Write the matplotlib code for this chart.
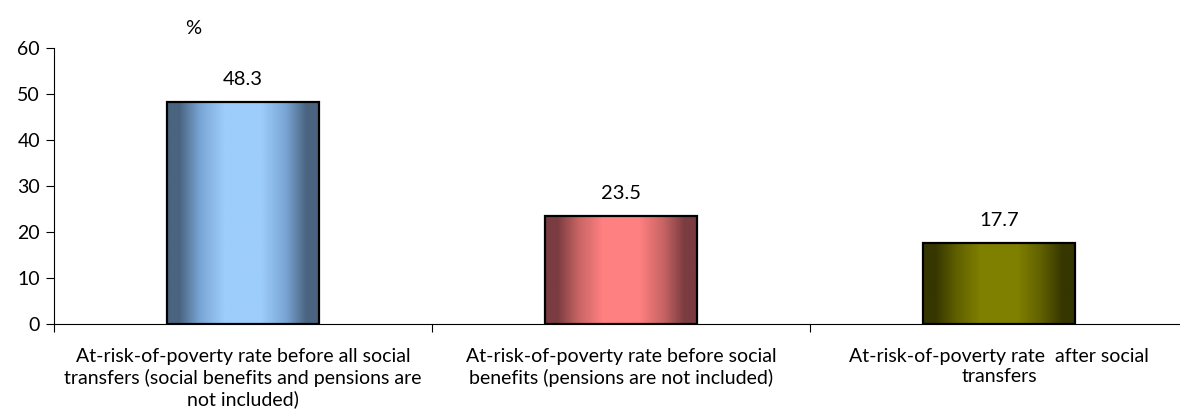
import numpy as np
import matplotlib.pyplot as plt
from matplotlib.colors import LinearSegmentedColormap

plt.rcParams['font.family'] = ['Lato', 'DejaVu Sans']

# data
labels = [
    "At-risk-of-poverty rate before all social\ntransfers (social benefits and pensions are\nnot included)",
    "At-risk-of-poverty rate before social\nbenefits (pensions are not included)",
    "At-risk-of-poverty rate  after social\ntransfers",
]
values = [48.3, 23.5, 17.7]
edge_cols = ["#4a6480", "#7a3c40", "#363600"]
mid_cols = ["#7aa6d6", "#c86464", "#606000"]
centre_cols = ["#9dcdfb", "#ff8080", "#808000"]

fig = plt.figure(figsize=(11.8, 4.12), dpi=100)
ax = fig.add_axes([54/1180, 88/412, 1134/1180, 276/412])

x = np.arange(len(values))
bars = ax.bar(x, values, width=0.40, facecolor='none', edgecolor='black',
              linewidth=1.6, zorder=3)

# horizontal gradient fill clipped to each bar
grad = np.linspace(0, 1, 256).reshape(1, -1)
for b, ec, mc, cc in zip(bars, edge_cols, mid_cols, centre_cols):
    cmap = LinearSegmentedColormap.from_list(
        'g', [(0, ec), (0.08, ec), (0.22, mc), (0.38, cc), (0.62, cc),
              (0.78, mc), (0.92, ec), (1, ec)])
    x0, w, h = b.get_x(), b.get_width(), b.get_height()
    im = ax.imshow(grad, cmap=cmap, aspect='auto', extent=[x0, x0 + w, 0, h],
                   zorder=2, interpolation='bilinear')
    im.set_clip_path(b)
    ax.text(x0 + w / 2, h + 3.0, f"{h:.1f}", ha='center', va='bottom', fontsize=14.5)

ax.set_xlim(-0.5, 2.5)
ax.set_ylim(0, 60)
ax.set_yticks(range(0, 61, 10))
ax.tick_params(axis='y', labelsize=14, length=6, width=0.8, direction='out', pad=4)

ax.set_xticks(x)
ax.set_xticklabels(labels, fontsize=14, linespacing=1.26)
ax.tick_params(axis='x', which='major', length=0, pad=17)
ax.set_xticks([-0.5, 0.5, 1.5, 2.5], minor=True)
ax.tick_params(axis='x', which='minor', length=6, width=0.8, direction='out')

ax.spines['top'].set_visible(False)
ax.spines['right'].set_visible(False)
ax.spines['left'].set_linewidth(0.8)
ax.spines['bottom'].set_linewidth(0.8)

fig.text(193/1180, 1 - 28/412, "%", ha='center', va='center', fontsize=14.5)

fig.savefig('out.png', dpi=100)
